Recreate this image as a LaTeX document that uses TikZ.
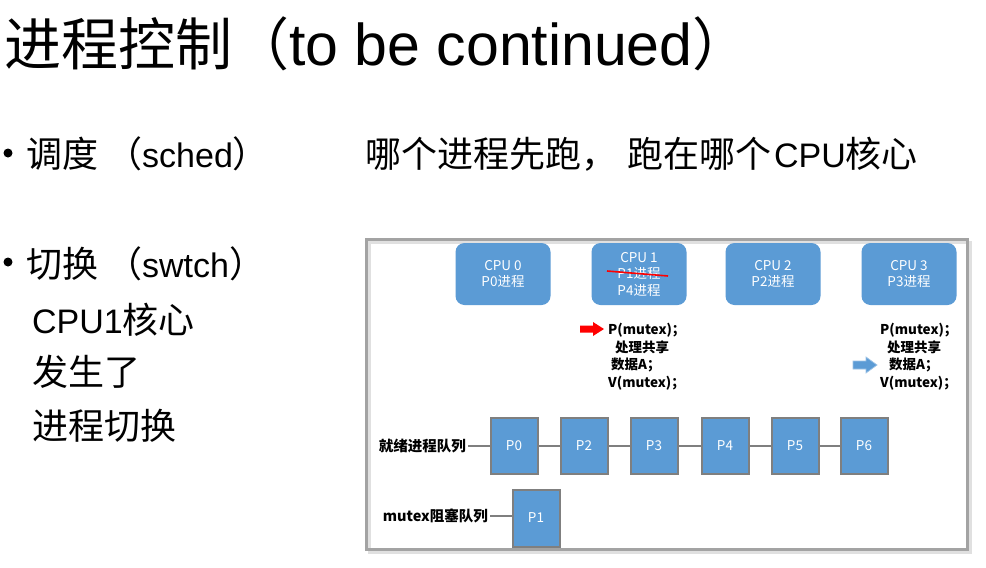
\documentclass[tikz,border=0pt]{standalone}
\usepackage{fontspec}
\setmainfont{Liberation Sans}
\newfontfamily\cjk{Noto Sans CJK SC}
\usetikzlibrary{calc}

\definecolor{cpublue}{HTML}{5B9BD5}
\definecolor{boxgray}{HTML}{7F7F7F}
\definecolor{framegray}{HTML}{A3A3A3}
\definecolor{arrowred}{HTML}{FF0000}

% Chinese runs inside Latin text, at heading size and at body size
\newcommand\zhT[1]{{\cjk\fontsize{57}{66}\selectfont #1}}
\newcommand\zhB[1]{{\cjk\fontsize{36}{42}\selectfont #1}}

\begin{document}
\begin{tikzpicture}[x=1pt,y=-1pt,
  every node/.style={inner sep=0pt},
  heading/.style={anchor=base west,font=\fontsize{59}{66}\selectfont},
  bodytext/.style={anchor=base west,font=\fontsize{34}{42}\selectfont},
  dotmark/.style={circle,fill=black,minimum size=9pt},
  cpu/.style={fill=cpublue,rounded corners=9pt,minimum width=95pt,minimum height=62pt,
    text=white,align=center,font=\cjk\fontsize{13.5}{16.5}\selectfont},
  proc/.style={draw=boxgray,line width=2pt,fill=cpublue,minimum width=47pt,minimum height=56pt,
    text=white,font=\cjk\fontsize{13.5}{16}\selectfont},
  link/.style={draw=boxgray,line width=1.6pt},
  qlabel/.style={anchor=east,inner sep=2pt,font=\cjk\fontsize{14.5}{16}\selectfont\bfseries},
  code/.style={anchor=north west,align=left,font=\cjk\fontsize{13.5}{17.6}\selectfont\bfseries}
]
% page
\fill[white] (0,0) rectangle (986,568);
\useasboundingbox (0,0) rectangle (986,568);

% heading and bullet list
\node[heading] (title) at (4,65) {\zhT{进程控制（}to be continued\zhT{）}};

\node[dotmark] (dot1) at (8,153) {};
\node[bodytext] (sched) at (26,167) {\zhB{调度}\hspace{8pt}\zhB{（}sched\zhB{）}};
\node[bodytext] (schednote) at (365,167) {\zhB{哪个进程先跑，}\hspace{10pt}\zhB{跑在哪个}\hspace{3pt}CPU\zhB{核心}};

\node[dotmark] (dot2) at (8,262) {};
\node[bodytext] (swtch) at (26,277) {\zhB{切换}\hspace{8pt}\zhB{（}swtch\zhB{）}};
\node[bodytext] (l1) at (32,333) {CPU1\zhB{核心}};
\node[bodytext] (l2) at (32,385) {\zhB{发生了}};
\node[bodytext] (l3) at (32,439) {\zhB{进程切换}};

% diagram frame with a soft shadow
\draw[black!12,line width=3pt] (369,242) rectangle (970,552);
\draw[framegray,line width=3pt] (366,239) rectangle (967,549);

% CPU cores
\node[cpu] (cpu0) at (503,274) {CPU 0\\P0进程};
\node[cpu] (cpu1) at (639,274) {CPU 1\\P1进程\\P4进程};
\node[cpu] (cpu2) at (773,274) {CPU 2\\P2进程};
\node[cpu] (cpu3) at (909,274) {CPU 3\\P3进程};
\draw[arrowred,line width=1.6pt] ([shift={(-32,-3)}]cpu1.center) -- ([shift={(29,2)}]cpu1.center);

% critical section code on CPU 1 and CPU 3
\node[code] (code1) at (608,323) {P(mutex)；\\\hspace{7pt}处理共享\\\hspace{3pt}数据A；\\V(mutex)；};
\node[code] (code3) at (880,323) {P(mutex)；\\\hspace{7pt}处理共享\\\hspace{9pt}数据A；\\V(mutex)；};

% block arrows pointing at the current statement
\coordinate (redarrow) at (580,329);
\fill[arrowred] ($(redarrow)+(0,-3.5)$) -- ++(13,0) -- ++(0,-3.5) -- ($(redarrow)+(24,0)$)
  -- ($(redarrow)+(13,7)$) -- ++(0,-3.5) -- ($(redarrow)+(0,3.5)$) -- cycle;
\coordinate (bluearrow) at (853,365);
\filldraw[fill=cpublue,draw=cpublue!60!white,line width=0.7pt]
  ($(bluearrow)+(0,-4)$) -- ++(13,0) -- ++(0,-4) -- ($(bluearrow)+(24,0)$)
  -- ($(bluearrow)+(13,8)$) -- ++(0,-4) -- ($(bluearrow)+(0,4)$) -- cycle;

% ready queue
\node[qlabel] (readyq) at (468,446) {就绪进程队列};
\node[proc] (p0) at (514,446) {P0};
\node[proc] (p2) at (584,446) {P2};
\node[proc] (p3) at (654,446) {P3};
\node[proc] (p4) at (725,446) {P4};
\node[proc] (p5) at (795,446) {P5};
\node[proc] (p6) at (864,446) {P6};
\draw[link] (readyq) -- (p0) -- (p2) -- (p3) -- (p4) -- (p5) -- (p6);

% mutex wait queue
\node[qlabel] (mutexq) at (490,516) {mutex阻塞队列};
\node[proc,minimum height=57pt] (p1) at (536,518) {P1};
\draw[link] (mutexq.east) -- (mutexq.east -| p1.west);
\end{tikzpicture}
\end{document}
